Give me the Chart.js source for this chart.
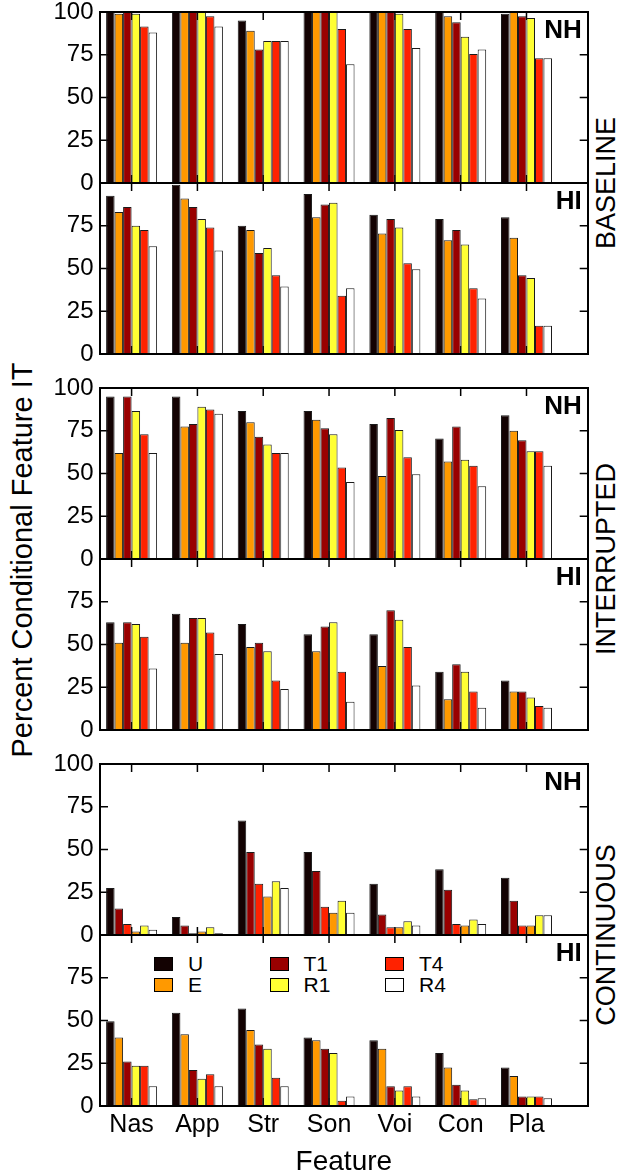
<!DOCTYPE html>
<html>
<head>
<meta charset="utf-8">
<script src="https://cdn.jsdelivr.net/npm/chart.js@4.4.1/dist/chart.umd.min.js"></script>
<style>
body { margin: 0; background: #fff; width: 621px; height: 1174px; overflow: hidden; position: relative;
       font-family: "Liberation Sans", Arial, sans-serif; color: #000; }
canvas { position: absolute; left: 0; }
.rot { position: absolute; white-space: nowrap; line-height: 1; transform: translate(-50%, -50%) rotate(-90deg); }
#legend { position: absolute; left: 154px; top: 953px; display: grid; grid-auto-flow: column;
          grid-template-rows: 21px 21px; grid-template-columns: 115.5px 115.5px 115.5px;
          font-size: 21px; line-height: 21px; }
#legend .item { display: flex; align-items: center; }
#legend .sw { width: 17px; height: 12px; border: 1.5px solid #000; margin-right: 15px; }
</style>
</head>
<body>
<div class="rot" style="left:22px;top:560px;font-size:29px">Percent Conditional Feature IT</div>
<div class="rot" style="left:606px;top:183px;font-size:27px">BASELINE</div>
<div class="rot" style="left:606px;top:559px;font-size:27px">INTERRUPTED</div>
<div class="rot" style="left:606px;top:935px;font-size:27px">CONTINUOUS</div>
<div id="legend"></div>

<script>
// categories and tick values
var features = ["Nas", "App", "Str", "Son", "Voi", "Con", "Pla"];
var yTicks = [0, 25, 50, 75, 100];

// bar order inside each group (rows of the data arrays follow it)
var seriesOrder = ["U", "E", "T1", "R1", "T4", "R4"];
// the continuous NH panel draws its bars in another order
var contNHOrder = ["U", "T1", "T4", "E", "R1", "R4"];

// BASELINE
var baselineNH = [
    [100, 100, 95, 100, 100, 100, 99],
    [99, 100, 89, 100, 100, 97.5, 100],
    [100, 100, 78, 100, 100, 94, 97.5],
    [99, 100, 83, 100, 99, 85.5, 96.5],
    [91.5, 97.5, 83, 90, 90, 75.5, 73],
    [88, 91.5, 83, 69.5, 79, 78, 73]
];
var baselineHI = [
    [92.5, 99, 75, 93.5, 81.5, 79, 80],
    [83, 91, 72.5, 80, 70.5, 66.5, 68],
    [86, 86, 59, 87.5, 79, 72.5, 46],
    [75, 79, 62, 88.5, 74, 64, 44.5],
    [72.5, 74, 46, 34, 53, 38.5, 16.5],
    [63, 60.5, 39.5, 38.5, 49.5, 32.5, 16.5]
];

// INTERRUPTED
var interruptedNH = [
    [95, 95, 86.5, 86.5, 79, 70.5, 84],
    [62, 77.5, 80, 81.5, 48.5, 57, 75],
    [95, 79, 71.5, 76.5, 82.5, 77.5, 69.5],
    [86.5, 89, 67, 73, 75.5, 58, 63],
    [73, 87.5, 62, 53.5, 59.5, 54.5, 63],
    [62, 85, 62, 45, 49.5, 42.5, 54.5]
];
var interruptedHI = [
    [63, 68, 62, 56, 56, 34, 29],
    [51, 51, 48.5, 46, 37.5, 18, 22.5],
    [63, 65.5, 51, 60.5, 70, 38.5, 22.5],
    [62, 65.5, 46, 63, 64.5, 34, 19],
    [54.5, 57, 29, 34, 48.5, 22.5, 14],
    [36, 44.5, 24, 16.5, 26, 13, 13]
];

// CONTINUOUS (NH rows follow contNHOrder)
var continuousNH = [
    [27.5, 10.5, 67, 48.5, 30, 38.5, 33.5],
    [15.5, 5.5, 48.5, 37.5, 12, 26.5, 20],
    [6.5, 1, 30, 16.5, 4.5, 6.5, 5.5],
    [2, 2, 22.5, 13, 4.5, 5.5, 5.5],
    [5.5, 4.5, 31.5, 20, 8, 9, 11.5],
    [3, 1, 27.5, 13, 5.5, 6.5, 11.5]
];
var continuousHI = [
    [49.5, 54.5, 57, 40, 38.5, 31, 22.5],
    [40, 42, 44.5, 38.5, 33.5, 22.5, 17.5],
    [26, 21, 36, 33.5, 11.5, 12.5, 5.5],
    [23.5, 16, 33.5, 31, 9, 9, 5.5],
    [23.5, 18.5, 16.5, 3, 11.5, 4, 5.5],
    [11.5, 11.5, 11.5, 5.5, 5.5, 4.5, 4.5]
];

var seriesColors = { U: "#130202", E: "#ff9900", T1: "#990000", R1: "#ffff33", T4: "#ff2200", R4: "#ffffff" };

Chart.defaults.font.family = '"Liberation Sans", Arial, sans-serif';
Chart.defaults.color = "#000";

var PLOT_R = 587.7, PANEL_H = 171, PAD = 14, TICK = 8;

var panels = [
    { top: 12,  rows: baselineNH,    order: seriesOrder, tag: "NH", hi: false },
    { top: 183, rows: baselineHI,    order: seriesOrder, tag: "HI", hi: true },
    { top: 388, rows: interruptedNH, order: seriesOrder, tag: "NH", hi: false },
    { top: 559, rows: interruptedHI, order: seriesOrder, tag: "HI", hi: true },
    { top: 764, rows: continuousNH,  order: contNHOrder, tag: "NH", hi: false },
    { top: 935, rows: continuousHI,  order: seriesOrder, tag: "HI", hi: true }
];

// NH / HI tag in the top right corner of each panel
var panelTag = {
    id: "panelTag",
    afterDraw: function(chart, args, opts) {
        var ctx = chart.ctx, area = chart.chartArea;
        ctx.save();
        ctx.font = 'bold 26px "Liberation Sans", Arial, sans-serif';
        ctx.fillStyle = "#000";
        ctx.textAlign = "right";
        ctx.textBaseline = "alphabetic";
        ctx.fillText(opts.text, area.right - 6, area.top + 26);
        ctx.restore();
    }
};

// tick marks pointing into the plot on all four sides, behind the bars
var inwardTicks = {
    id: "inwardTicks",
    beforeDatasetsDraw: function(chart) {
        var ctx = chart.ctx, a = chart.chartArea, xs = chart.scales.x, ys = chart.scales.y;
        ctx.save();
        ctx.strokeStyle = "#000";
        ctx.lineWidth = 1.5;
        ctx.beginPath();
        xs.ticks.forEach(function(t) {
            var px = xs.getPixelForValue(t.value);
            ctx.moveTo(px, a.top); ctx.lineTo(px, a.top + TICK);
            ctx.moveTo(px, a.bottom); ctx.lineTo(px, a.bottom - TICK);
        });
        ys.ticks.forEach(function(t) {
            var py = ys.getPixelForValue(t.value);
            ctx.moveTo(a.left, py); ctx.lineTo(a.left + TICK, py);
            ctx.moveTo(a.right, py); ctx.lineTo(a.right - TICK, py);
        });
        ctx.stroke();
        ctx.restore();
    }
};

function catTicks(scale) {
    scale.ticks = features.map(function(f, i) { return { value: i + 1 }; });
}
function valTicks(scale) {
    scale.ticks = yTicks.map(function(v) { return { value: v }; });
}
// keep the axes from pushing the plot area around with label overhang
function noPad(s) {
    s.paddingTop = 0; s.paddingBottom = 0; s.paddingLeft = 0; s.paddingRight = 0;
}

function makePanel(p, isBottom) {
    var cv = document.createElement("canvas");
    cv.width = 621;
    cv.height = isBottom ? 255 : PANEL_H + 2 * PAD;
    cv.style.top = (p.top - PAD) + "px";
    document.body.appendChild(cv);

    var grid = { display: false, drawTicks: false, offset: false };
    var border = { display: true, color: "#000", width: 2, z: 1 };

    return new Chart(cv, {
        type: "bar",
        data: {
            datasets: p.order.map(function(name, k) {
                return {
                    label: name,
                    data: p.rows[k].map(function(v, i) { return { x: i + 1, y: v }; }),
                    backgroundColor: seriesColors[name],
                    borderColor: "#1a1a1a",
                    borderWidth: 1,
                    categoryPercentage: 0.775,
                    barPercentage: 1
                };
            })
        },
        options: {
            responsive: false,
            animation: false,
            devicePixelRatio: 1,
            layout: { padding: { top: PAD, bottom: isBottom ? 0 : PAD, left: 0, right: 0 } },
            plugins: { legend: { display: false }, tooltip: { enabled: false }, panelTag: { text: p.tag } },
            scales: {
                x: {
                    type: "linear", position: "bottom", min: 0.52, max: 7.93, offset: false,
                    afterBuildTicks: catTicks, grid: grid, border: border,
                    ticks: { display: isBottom, autoSkip: false, maxRotation: 0, padding: 4,
                             font: { size: 25 }, callback: function(v) { return features[v - 1]; } },
                    title: { display: isBottom, text: "Feature", font: { size: 28, lineHeight: 1 }, padding: 0 },
                    afterFit: function(s) { s.height = isBottom ? 70 : 0; noPad(s); }
                },
                x2: {
                    type: "linear", position: "top", min: 0.52, max: 7.93, offset: false,
                    grid: grid, border: border, ticks: { display: false },
                    afterFit: function(s) { s.height = 0; noPad(s); }
                },
                y: {
                    position: "left", min: 0, max: 100,
                    afterBuildTicks: valTicks, grid: grid, border: border,
                    ticks: { padding: 6.5, font: { size: 24 },
                             callback: function(v) { return (p.hi && v === 100) ? "" : v; } },
                    afterFit: function(s) { s.width = 100; noPad(s); }
                },
                y2: {
                    position: "right", min: 0, max: 100,
                    grid: grid, border: border, ticks: { display: false },
                    afterFit: function(s) { s.width = 621 - PLOT_R; noPad(s); }
                }
            }
        },
        plugins: [inwardTicks, panelTag]
    });
}

var charts = panels.map(function(p, i) { return makePanel(p, i === panels.length - 1); });

// legend built from the bottom panel's datasets
var legendBox = document.getElementById("legend");
charts[charts.length - 1].data.datasets.forEach(function(ds) {
    var item = document.createElement("div");
    item.className = "item";
    var sw = document.createElement("span");
    sw.className = "sw";
    sw.style.background = ds.backgroundColor;
    var tx = document.createElement("span");
    tx.textContent = ds.label;
    item.appendChild(sw);
    item.appendChild(tx);
    legendBox.appendChild(item);
});
</script>
</body>
</html>
